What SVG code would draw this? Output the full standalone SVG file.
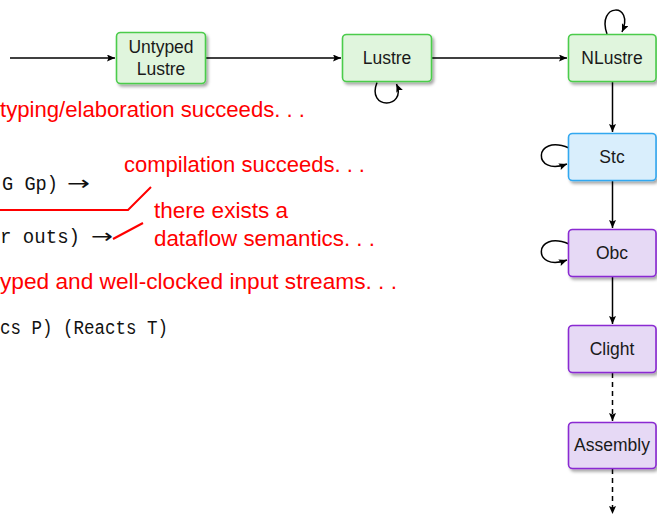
<svg xmlns="http://www.w3.org/2000/svg" width="657" height="515" viewBox="0 0 657 515">
  <style>
    .node rect { stroke-width: 1.6; filter: url(#shadow); }
    .green rect { fill: #e0f5dd; stroke: #4ccc4c; }
    .blue rect { fill: #d9eefc; stroke: #33a8f0; }
    .purple rect { fill: #e6d9f5; stroke: #8a2ad2; }
    .label { font-family: "Liberation Sans", Arial, sans-serif; font-size: 17.5px; fill: #1a1a1a; text-anchor: middle; }
    .edge { fill: none; stroke: #000; stroke-width: 1.5; marker-end: url(#head); }
    .dashed { stroke-dasharray: 5 4; }
    .note { font-family: "Liberation Sans", Arial, sans-serif; font-size: 22px; fill: #ff0000; }
    .code { font-family: "Liberation Mono", "Courier New", monospace; font-size: 20px; fill: #111; }
    .arrow { font-family: "DejaVu Sans", sans-serif; font-size: 20px; fill: #111; }
    .callout { fill: none; stroke: #ff0000; stroke-width: 2; }
  </style>
  <defs>
    <filter id="shadow" x="-20%" y="-20%" width="150%" height="160%">
      <feDropShadow dx="2" dy="2.5" stdDeviation="1.6" flood-color="#000" flood-opacity="0.35"/>
    </filter>
    <marker id="head" markerUnits="userSpaceOnUse" markerWidth="10" markerHeight="8" refX="8" refY="3.5" orient="auto">
      <path d="M0,0 L8,3.5 L0,7 L1.5,3.5 z" fill="#000"/>
    </marker>
  </defs>

  <rect width="657" height="515" fill="#fff"/>

  <!-- annotations and code fragments -->
  <g id="annotations">
    <text class="note" x="0" y="117" textLength="305" lengthAdjust="spacingAndGlyphs">typing/elaboration succeeds. . .</text>
    <text class="note" x="124" y="172" textLength="241" lengthAdjust="spacingAndGlyphs">compilation succeeds. . .</text>
    <text class="note" x="154" y="218" textLength="134" lengthAdjust="spacingAndGlyphs">there exists a</text>
    <text class="note" x="154" y="246" textLength="221" lengthAdjust="spacingAndGlyphs">dataflow semantics. . .</text>
    <text class="note" x="0" y="289" textLength="397" lengthAdjust="spacingAndGlyphs">yped and well-clocked input streams. . .</text>

    <text class="code" x="2" y="190" textLength="56" lengthAdjust="spacingAndGlyphs">G Gp)</text>
    <text class="arrow" x="67" y="190" textLength="23" lengthAdjust="spacingAndGlyphs">→</text>
    <text class="code" x="0" y="243" textLength="80" lengthAdjust="spacingAndGlyphs">r outs)</text>
    <text class="arrow" x="91" y="243" textLength="22" lengthAdjust="spacingAndGlyphs">→</text>
    <text class="code" x="0" y="334" textLength="168" lengthAdjust="spacingAndGlyphs">cs P) (Reacts T)</text>

    <path class="callout" d="M0,210 H128 L151,187"/>
    <path class="callout" d="M113,239 L143,223"/>
  </g>

  <!-- connectors -->
  <g id="connectors">
    <path class="edge" d="M10,58 H115"/>
    <path class="edge" d="M206,58 H341"/>
    <path class="edge" d="M432,58 H567"/>
    <path class="edge" d="M612.5,82 V132"/>
    <path class="edge" d="M612.5,181 V228"/>
    <path class="edge" d="M612.5,277 V324"/>
    <path class="edge dashed" d="M612.5,373 V421"/>
    <path class="edge dashed" d="M612.5,469 V514"/>
    <!-- self loops -->
    <path class="edge" d="M377,82.5 C366,110 407,109 396.5,84"/>
    <path class="edge" d="M607,34 C596,3 635,2 622,32"/>
    <path class="edge" d="M569,148 C533,133 532,177 567,164"/>
    <path class="edge" d="M569,244 C533,229 532,273 567,260"/>
  </g>

  <!-- nodes -->
  <g id="untyped-lustre" class="node green">
    <rect x="116.5" y="32.5" width="89" height="51" rx="4"/>
    <text class="label" x="161" y="53">Untyped</text>
    <text class="label" x="161" y="75">Lustre</text>
  </g>
  <g id="lustre" class="node green">
    <rect x="342.5" y="34.5" width="89" height="47" rx="4"/>
    <text class="label" x="387" y="64">Lustre</text>
  </g>
  <g id="nlustre" class="node green">
    <rect x="568.5" y="34.5" width="87.5" height="47" rx="4"/>
    <text class="label" x="612" y="64">NLustre</text>
  </g>
  <g id="stc" class="node blue">
    <rect x="568.5" y="133.5" width="87.5" height="47" rx="4"/>
    <text class="label" x="612" y="163">Stc</text>
  </g>
  <g id="obc" class="node purple">
    <rect x="568.5" y="229.5" width="87.5" height="47" rx="4"/>
    <text class="label" x="612" y="259">Obc</text>
  </g>
  <g id="clight" class="node purple">
    <rect x="568.5" y="325.5" width="87.5" height="47" rx="4"/>
    <text class="label" x="612" y="355">Clight</text>
  </g>
  <g id="assembly" class="node purple">
    <rect x="568.5" y="422.5" width="87.5" height="46" rx="4"/>
    <text class="label" x="612" y="451">Assembly</text>
  </g>
</svg>
